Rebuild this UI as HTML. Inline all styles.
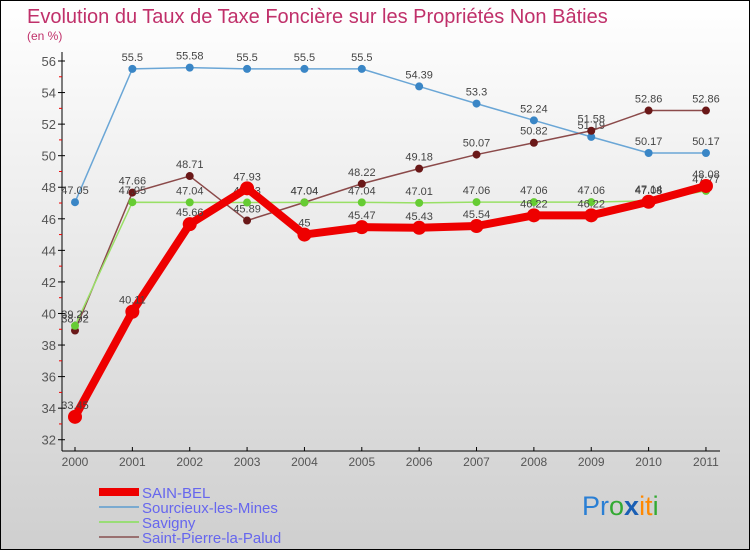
<!DOCTYPE html>
<html><head><meta charset="utf-8"><style>
body{margin:0}
#c{position:relative;width:750px;height:550px;box-sizing:border-box;border:1px solid #000;background:linear-gradient(#fff,#cfcfcf);font-family:"Liberation Sans",sans-serif;overflow:hidden}
</style></head><body>
<div id="c">
<svg width="750" height="550" style="position:absolute;left:-1px;top:-1px">
<text x="27" y="23" font-size="20" fill="#c0306a">Evolution du Taux de Taxe Foncière sur les Propriétés Non Bâties</text>
<text x="27" y="40" font-size="12" fill="#c0306a">(en %)</text>
<g id="axes"></g><g id="series"></g><g id="legend"></g>
<text x="582" y="515" font-size="27"><tspan fill="#2a7fd4">Pr</tspan><tspan fill="#3a3">o</tspan><tspan fill="#1a5fb4" font-weight="bold">x</tspan><tspan fill="#f80">it</tspan><tspan fill="#3a3">i</tspan></text>
</svg>
</div>
<script>
const years=["2000","2001","2002","2003","2004","2005","2006","2007","2008","2009","2010","2011"];
const yTicks=[32,34,36,38,40,42,44,46,48,50,52,54,56];
const sainBel=[33.45,40.11,45.66,47.93,45,45.47,45.43,45.54,46.22,46.22,47.08,48.08];
const sourcieux=[47.05,55.5,55.58,55.5,55.5,55.5,54.39,53.3,52.24,51.19,50.17,50.17];
const savigny=[39.22,47.05,47.04,47.03,47.04,47.04,47.01,47.06,47.06,47.06,47.14,47.77];
const saintPierre=[38.92,47.66,48.71,45.89,47.04,48.22,49.18,50.07,50.82,51.58,52.86,52.86];
const NS="http://www.w3.org/2000/svg";
const X=i=>75+i*57.36, Y=v=>61+(56-v)*15.78;
function mk(tag,attrs,parent,text){const e=document.createElementNS(NS,tag);for(const k in attrs)e.setAttribute(k,attrs[k]);if(text!==undefined)e.textContent=text;parent.appendChild(e);return e;}
const ax=document.getElementById('axes');
let l=mk('line',{x1:62,y1:52,x2:62,y2:451,stroke:'#000'},ax);


l=mk('line',{x1:62,y1:451,x2:720,y2:451,stroke:'#000'},ax);


for(let v=32;v<=56;v++){const t=mk('line',{x1:v%2?59:58,y1:Y(v),x2:v%2?62:65,y2:Y(v),stroke:v%2?'#e00':'#000'},ax);

}
yTicks.forEach(v=>{const t=mk('text',{x:56,y:Y(v)+5,'font-size':13,fill:'#555','text-anchor':'end'},ax,String(v));

});
years.forEach((y,i)=>{const t=mk('line',{x1:X(i),y1:447,x2:X(i),y2:451,stroke:'#000'},ax);


const tt=mk('text',{x:X(i),y:466,'font-size':12,fill:'#555','text-anchor':'middle'},ax,y);

});
const sg=document.getElementById('series');
function draw(data,color,w,r,name,fill){
 const g=mk('g',{},sg);
 
 
 const p=mk('polyline',{points:data.map((v,i)=>X(i)+','+Y(v)).join(' '),fill:'none',stroke:color,'stroke-width':w,'stroke-linejoin':'round'},g);
 
 
 data.forEach((v,i)=>{const c=mk('circle',{cx:X(i),cy:Y(v),r:r,fill:fill},g);
 
 
 const t=mk('text',{x:X(i),y:Y(v)-8,'font-size':11,fill:'#444','text-anchor':'middle'},g,String(v));
 
 });
}
draw(sourcieux,'#6aa6d6',1.5,4,'sourcieux-series','#3a86c6');
draw(saintPierre,'#8b4a4a',1.5,4,'saint-pierre-series','#6a1818');
draw(savigny,'#99e066',1.5,4,'savigny-series','#66cc33');
draw(sainBel,'#ee0000',8,7,'sain-bel-series','#ee0000');
const lg=document.getElementById('legend');
const items=[['SAIN-BEL','#ee0000',8],['Sourcieux-les-Mines','#7aaad0',2],['Savigny','#99dd77',2],['Saint-Pierre-la-Palud','#997070',2]];
items.forEach((it,i)=>{const y=492+i*15;
 const g=mk('g',{},lg);
 
 
 mk('line',{x1:99,y1:y,x2:139,y2:y,stroke:it[1],'stroke-width':it[2]},g);
 mk('text',{x:142,y:y+6,'font-size':15,fill:'#6666ee'},g,it[0]);});
</script>
</body></html>
